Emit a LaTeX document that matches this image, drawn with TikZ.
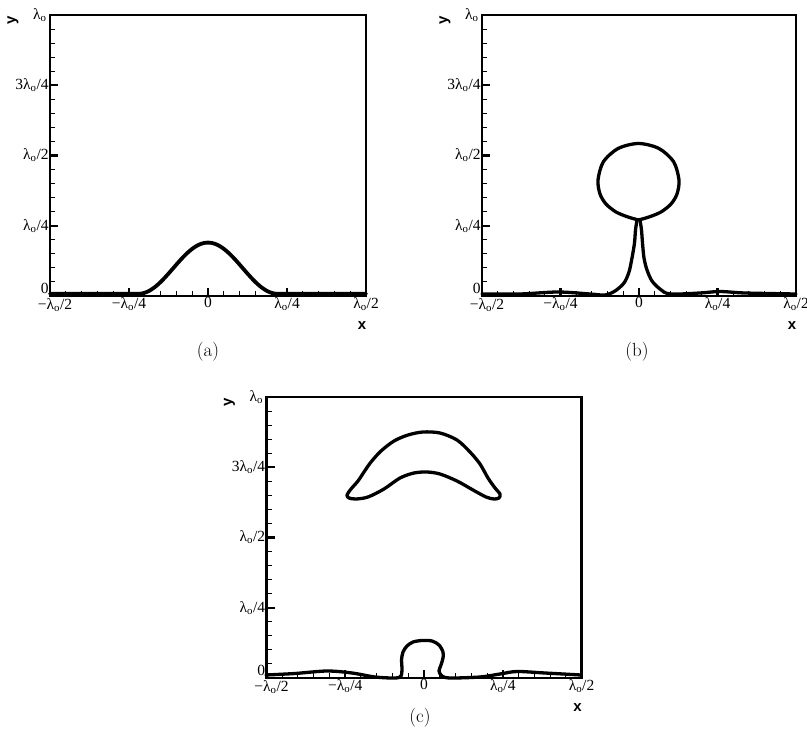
\documentclass[tikz,border=0pt]{standalone}
\usepackage{fontspec}
\usetikzlibrary{positioning}
\newfontfamily\tickfont{Liberation Serif}
\newfontfamily\axisfont{Liberation Sans}
\newcommand{\lo}{λ\textsubscript{o}}

\tikzset{
  plotframe/.style={line width=2.4pt},
  minortick/.style={line width=1pt},
  majortick/.style={line width=2.2pt},
  ticklabel/.style={font={\tickfont\fontsize{15.5}{16}\selectfont}, inner sep=1.2pt},
  axislabel/.style={font={\axisfont\bfseries\fontsize{15}{16}\selectfont}, inner sep=0pt},
  panelcaption/.style={font={\fontsize{19}{21}\selectfont}},
  interface/.style={line width=3.3pt, line join=round, line cap=round}
}

% frame, ticks and tick labels of one panel (in lambda units)
\newcommand{\panelaxes}[1]{%
  \draw[plotframe] (-0.5,0) rectangle (0.5,1);
  \foreach \k in {1,...,19} \draw[minortick] (-0.5+\k/20,0) -- ++(0,5pt);
  \foreach \k in {1,...,19} \draw[minortick] (-0.5,\k/20) -- ++(5pt,0);
  \foreach \k in {-1,0,1} \draw[majortick] (\k/4,0) -- ++(0,8pt);
  \foreach \k in {1,2,3} \draw[majortick] (-0.5,\k/4) -- ++(8pt,0);
  \node[ticklabel, anchor=east] (#1-y0) at ([yshift=7.5pt]-0.5,0) {0};
  \node[ticklabel, anchor=east] (#1-y1) at (-0.5,0.25) {\lo/4};
  \node[ticklabel, anchor=east] (#1-y2) at (-0.5,0.5) {\lo/2};
  \node[ticklabel, anchor=east] (#1-y3) at (-0.5,0.75) {3\lo/4};
  \node[ticklabel, anchor=east] (#1-y4) at ([xshift=-2pt]-0.5,1) {\lo};
  \node[ticklabel, anchor=north] (#1-x0) at ([shift={(5pt,-1pt)}]-0.5,0) {−\lo/2};
  \node[ticklabel, anchor=north] (#1-x1) at (-0.25,0) {−\lo/4};
  \node[ticklabel, anchor=north] (#1-x2) at (0,0) {0};
  \node[ticklabel, anchor=north] (#1-x3) at (0.25,0) {\lo/4};
  \node[ticklabel, anchor=north] (#1-x4) at (0.5,0) {\lo/2};
  \node[axislabel] (#1-xlab) at ([shift={(-4pt,-30pt)}]0.5,0) {x};
  \node[axislabel, rotate=90] (#1-ylab) at ([shift={(-37pt,-5pt)}]-0.5,1) {y};
}

\begin{document}
\begin{tikzpicture}[x=1pt, y=-1pt]
  \useasboundingbox (0,0) rectangle (807,733);

  \begin{scope}[shift={(208,296)}, x=316pt, y=281pt]
    \panelaxes{a}
    \draw[interface, line width=3.8pt] (-0.5,0.008) -- (-0.22,0.008)
      -- plot[domain=-0.22:0.22, samples=80] (\x, {0.008+0.091*(1+cos(818.18*\x))})
      -- (0.5,0.008);
  \end{scope}

  \begin{scope}[shift={(639,296)}, x=314pt, y=281pt]
    \panelaxes{b}
  \end{scope}
  \draw[interface] plot[smooth] coordinates {(482,294) (520,294) (558,292)
    (590,294) (605,295) (615,291) (624,283) (629,272) (632,258) (634.5,243)
    (635.5,230) (637,220)};
  \draw[interface] plot[smooth] coordinates {(640,220) (641.5,230) (642.5,243)
    (644,258) (647,270) (652,281) (660,289) (670,294) (700,293) (720,291.5)
    (745,293) (796,294)};
  \draw[interface] plot[smooth] coordinates {(638.5,220) (628,217) (616,212)
    (606,204) (600,194) (598,180) (603.4,161.7) (618.3,148.4) (638.5,143.5)
    (658.8,148.4) (673.6,161.7) (679,180) (677,194) (671,204) (661,212)
    (649,217) (638.5,220)};

  \begin{scope}[shift={(424,678)}, x=315pt, y=281pt]
    \panelaxes{c}
  \end{scope}
  \draw[interface] plot[smooth] coordinates {(266,675) (295,673.5) (327,671)
    (352,673) (375,677) (395,678) (401,676) (402,668) (401.5,660) (403,652)
    (407,646) (413,642) (422,640.5) (432,641) (439,645) (443,652) (443,658)
    (441,665) (439,671) (442,676) (450,678) (480,677) (500,674) (517,671.5)
    (545,673) (581,675)};
  \draw[interface] plot[smooth cycle] coordinates {(347,495) (351,489)
    (358,481) (364,472) (371,462) (381,451) (394,441) (408,435) (423,432)
    (440,433) (457,440) (470,452) (480,464) (488,478) (495,488) (500,494)
    (499,498) (494,499) (486,497) (473,490) (457,481) (440,474) (427,472)
    (414,473) (400,478) (384,489) (368,497) (356,499) (349,498)};

  \node[panelcaption] (capa) at (208,352) {(a)};
  \node[panelcaption] (capb) at (637,352) {(b)};
  \node[panelcaption] (capc) at (420,718) {(c)};
\end{tikzpicture}
\end{document}
